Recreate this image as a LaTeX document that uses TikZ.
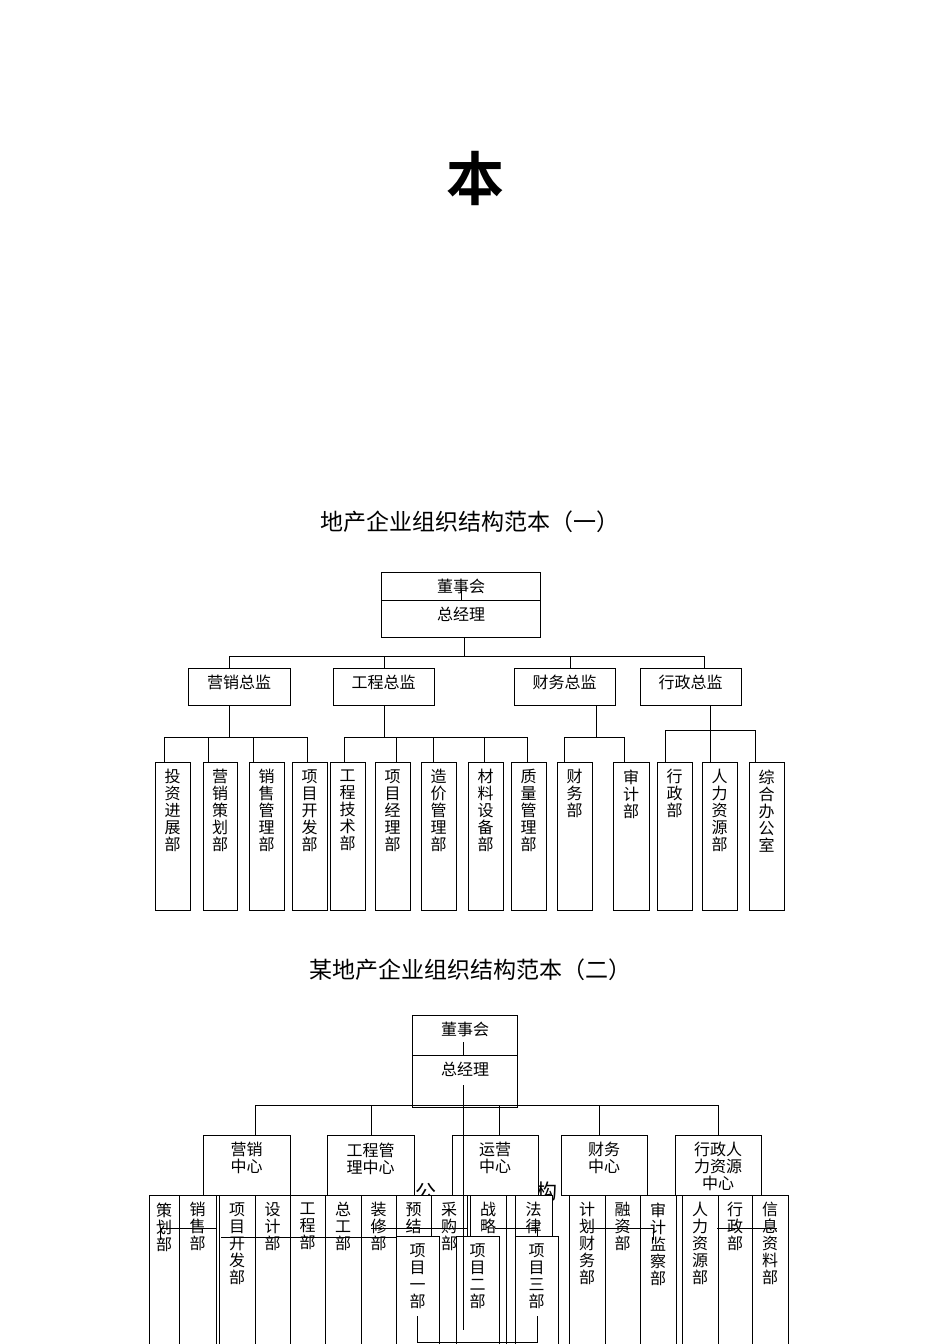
\documentclass[tikz,border=0pt]{standalone}
\usepackage{fontspec}
\setmainfont{Noto Sans CJK SC}
\newfontfamily\cjkb{Noto Sans CJK SC Bold}
\begin{document}
\begin{tikzpicture}[x=1pt,y=-1pt,line width=1pt,
  bx/.style={draw,fill=white,inner sep=0pt,anchor=north west},
  lb/.style={font=\fontsize{16}{17}\selectfont,align=center,anchor=north,inner sep=0pt}]
\useasboundingbox (0,0) rectangle (950,1344);
\newcommand\bxn[6]{% name x1 y1 x2 y2 text
  \node[bx,minimum width={#4-#2},minimum height={#5-#3}] (#1) at (#2,#3) {};
  \node[lb] (#1t) at ({(#2+#4)/2},{#3+7}) {#6};}
\node[font=\cjkb\fontsize{58}{58}\selectfont] (ben) at (475,178) {本};
\node[font=\fontsize{23}{23}\selectfont] (t1) at (470,522) {地产企业组织结构范本（一）};
\node[font=\fontsize{23}{23}\selectfont] (t2) at (470,970) {某地产企业组织结构范本（二）};
% ---------- chart 1 ----------
\bxn{top}{381}{572}{540}{637}{}
\draw (381,600) -- (540,600);
\node[lb] (dsh) at (461,579) {董事会};
\node[lb] (zjl) at (461,607) {总经理};
\draw (461,588) -- (461,600);
\coordinate (bus1) at (464,656);
\draw (top.south-|bus1) -- (bus1);
\draw (229,668) -- (229,656) -- (704,656) -- (704,668);
\draw (384,656) -- (384,668); \draw (570,656) -- (570,668);
\bxn{a1}{188}{668}{290}{705}{营销总监}
\bxn{a2}{333}{668}{434}{705}{工程总监}
\bxn{a3}{514}{668}{615}{705}{财务总监}
\bxn{a4}{640}{668}{741}{705}{行政总监}
\foreach \n/\xa/\xb/\t in {l1/155/190/投\\资\\进\\展\\部, l2/203/237/营\\销\\策\\划\\部, l3/249/284/销\\售\\管\\理\\部, l4/292/327/项\\目\\开\\发\\部, l5/330/365/工\\程\\技\\术\\部, l6/375/410/项\\目\\经\\理\\部, l7/421/456/造\\价\\管\\理\\部, l8/468/503/材\\料\\设\\备\\部, l9/511/546/质\\量\\管\\理\\部, l10/557/592/财\\务\\部, l11/613/649/审\\计\\部, l12/657/692/行\\政\\部, l13/702/737/人\\力\\资\\源\\部, l14/749/784/综\\合\\办\\公\\室}{
  \bxn{\n}{\xa}{762}{\xb}{910}{\t}}
\draw (229,705) -- (229,737); \draw (164,762) -- (164,737) -- (307,737) -- (307,762);
\draw (208,737) -- (208,762); \draw (253,737) -- (253,762);
\draw (384,705) -- (384,737); \draw (344,762) -- (344,737) -- (527,737) -- (527,762);
\draw (396,737) -- (396,762); \draw (433,737) -- (433,762); \draw (484,737) -- (484,762);
\draw (596,705) -- (596,737); \draw (564,762) -- (564,737) -- (624,737) -- (624,762);
\draw (710,705) -- (710,762); \draw (665,762) -- (665,730) -- (755,730) -- (755,762);
% ---------- chart 2 ----------
\node[font=\fontsize{21}{21}\selectfont] (gong) at (426,1193) {公};
\node[font=\fontsize{21}{21}\selectfont] (gou) at (547,1192) {构};
\bxn{top2}{412}{1015}{517}{1107}{}
\draw (412,1055) -- (517,1055);
\node[lb] (dsh2) at (465,1022) {董事会};
\node[lb] (zjl2) at (465,1062) {总经理};
\draw (463,1042) -- (463,1055);
\draw (255,1135) -- (255,1105) -- (718,1105) -- (718,1135);
\draw (371,1105) -- (371,1135); \draw (499,1105) -- (499,1135); \draw (599,1105) -- (599,1135);
\bxn{b1}{203}{1135}{290}{1195}{营销\\中心}
\bxn{b2}{327}{1135}{414}{1195}{工程管\\理中心}
\bxn{b3}{452}{1135}{538}{1195}{运营\\中心}
\bxn{b4}{561}{1135}{647}{1195}{财务\\中心}
\bxn{b5}{675}{1135}{761}{1195}{行政人\\力资源\\中心}
\foreach \n/\xa/\xb/\t in {m1/149/179/策\\划\\部, m2/179/216/销\\售\\部, m3/219/255/项\\目\\开\\发\\部, m4/255/290/设\\计\\部, m5/290/325/工\\程\\部, m6/325/361/总\\工\\部, m7/361/396/装\\修\\部, m8/396/431/预\\结, m9/431/467/采\\购\\部, m10/470/506/战\\略, m11/515/552/法\\律, m12/569/605/计\\划\\财\\务\\部, m13/605/640/融\\资\\部, m14/640/676/审\\计\\监\\察\\部, m15/682/718/人\\力\\资\\源\\部, m16/718/752/行\\政\\部, m17/752/788/信\\息\\资\\料\\部}{
  \bxn{\n}{\xa}{1195}{\xb}{1344}{\t}}
\draw (160,1240) -- (160,1228) -- (216,1228);
\draw (221,1237) -- (439,1237);
\draw (371,1228) -- (467,1228);
\draw (495,1228) -- (537,1228) -- (537,1240);
\draw (587,1228) -- (653,1228) -- (653,1240);
\draw (717,1228) -- (777,1228);
\bxn{p1}{396}{1236}{439}{1344}{项\\目\\一\\部}
\bxn{p2}{456}{1236}{499}{1344}{项\\目\\二\\部}
\bxn{p3}{515}{1236}{558}{1344}{项\\目\\三\\部}
\draw (463,1085) -- (463,1330);
\draw (417,1316) -- (417,1342) -- (537,1342) -- (537,1316);
\end{tikzpicture}
\end{document}
